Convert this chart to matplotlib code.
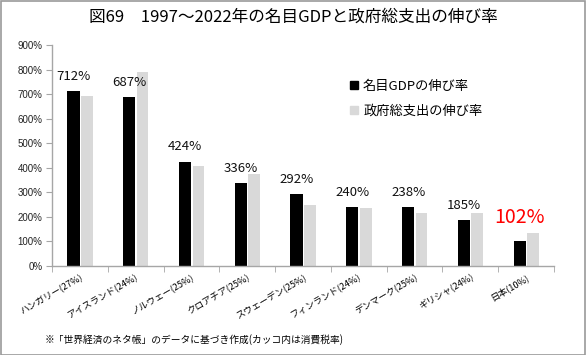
import matplotlib.pyplot as plt
from matplotlib.lines import Line2D
from matplotlib.patches import Rectangle
import numpy as np

plt.rcParams['font.family'] = ['Noto Sans CJK JP', 'DejaVu Sans']

# ── Data ───────────────────────────────────────────────────────────────────
COUNTRIES = [
    "ハンガリー(27%)", "アイスランド(24%)", "ノルウェー(25%)",
    "クロアチア(25%)", "スウェーデン(25%)", "フィンランド(24%)",
    "デンマーク(25%)", "ギリシャ(24%)", "日本(10%)",
]
GDP_GROWTH = [712, 687, 424, 336, 292, 240, 238, 185, 102]
GOV_GROWTH = [690, 790, 407, 374, 248, 235, 214, 216, 132]
Y_TICKS = list(range(0, 1000, 100))

TITLE = "図69　1997～2022年の名目GDPと政府総支出の伸び率"
NOTE = "※「世界経済のネタ帳」のデータに基づき作成(カッコ内は消費税率)"

BLACK = "#000000"
GRAY = "#D9D9D9"
AXIS_GRAY = "#A6A6A6"

fig = plt.figure(figsize=(5.86, 3.55), dpi=100)
ax = fig.add_axes([52 / 586, 1 - 265.7 / 355, 502 / 586, 220.7 / 355])

x = np.arange(len(COUNTRIES))
ax.bar(x - 0.115, GDP_GROWTH, width=0.22, color=BLACK)
ax.bar(x + 0.125, GOV_GROWTH, width=0.21, color=GRAY)

for i, v in enumerate(GDP_GROWTH):
    last = i == len(GDP_GROWTH) - 1
    ax.annotate(f"{v}%", (x[i] - 0.115, v), xytext=(0, 6 if not last else 9),
                textcoords="offset points", ha="center", va="bottom",
                fontsize=14 if last else 9.5,
                color="#FF0000" if last else "#111111")

ax.set_xlim(-0.5, len(COUNTRIES) - 0.5)
ax.set_ylim(0, 900)
ax.set_yticks(Y_TICKS)
ax.set_yticklabels([f"{t}%" for t in Y_TICKS], fontsize=7,
                   family=['Liberation Sans', 'DejaVu Sans'], color="#222222")

ax.set_xticks(x)
ax.set_xticklabels(COUNTRIES, rotation=30, ha="right", rotation_mode="anchor",
                   fontsize=6.6)
ax.set_xticks(np.arange(-0.5, len(COUNTRIES)), minor=True)
ax.tick_params(axis="x", which="major", length=0, pad=5)
ax.tick_params(axis="x", which="minor", length=4, color=AXIS_GRAY)
ax.tick_params(axis="y", length=4, color=AXIS_GRAY, pad=3)

for s in ("top", "right"):
    ax.spines[s].set_visible(False)
for s in ("left", "bottom"):
    ax.spines[s].set_color(AXIS_GRAY)
    ax.spines[s].set_linewidth(1.0)

handles = [
    Line2D([], [], marker="s", linestyle="none", markersize=6, color=BLACK),
    Line2D([], [], marker="s", linestyle="none", markersize=6, color=GRAY),
]
fig.legend(handles, ["名目GDPの伸び率", "政府総支出の伸び率"],
           loc="upper left", bbox_to_anchor=(338 / 586, 1 - 68 / 355),
           frameon=False, fontsize=9.5, handlelength=0.6, handletextpad=0.4,
           labelspacing=0.9)

fig.text(0.5, 1 - 17 / 355, TITLE, ha="center", va="center", fontsize=12)
fig.text(45 / 586, 1 - 340 / 355, NOTE, ha="left", va="center", fontsize=7)

fig.patches.append(Rectangle((0.001, 0.001), 0.997, 0.997, transform=fig.transFigure,
                             fill=False, edgecolor="#9A9A9A", linewidth=1.2))

fig.savefig("out.png", dpi=100)
